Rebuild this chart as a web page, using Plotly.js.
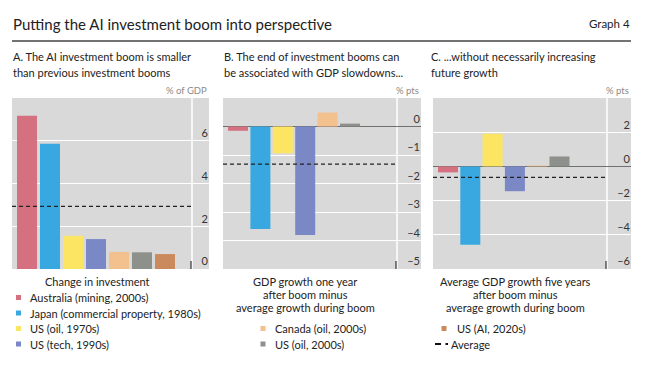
<!DOCTYPE html>
<html>
<head>
<meta charset="utf-8">
<script src="https://cdn.plot.ly/plotly-3.0.1.min.js"></script>
<style>html,body{margin:0;padding:0;background:#fff;}#chart{width:650px;height:368px;}</style>
</head>
<body>
<div id="chart"></div>
<script>
// ---- data ----
const categories = ["Australia (mining, 2000s)", "Japan (commercial property, 1980s)", "US (oil, 1970s)", "US (tech, 1990s)", "Canada (oil, 2000s)", "US (oil, 2000s)", "US (AI, 2020s)"];
const investmentChange = [7.17, 5.86, 1.55, 1.4, 0.8, 0.78, 0.7];      // % of GDP
const growthOneYearAfter = [-0.15, -3.6, -0.94, -3.81, 0.49, 0.1, null]; // % pts
const growthFiveYearsAfter = [-0.35, -4.58, 1.91, -1.45, 0.05, 0.58, null]; // % pts
const averages = [2.93, -1.32, -0.64];
const panelTitles = [
  ["A. The AI investment boom is smaller", "than previous investment booms"],
  ["B. The end of investment booms can", "be associated with GDP slowdowns..."],
  ["C. ...without necessarily increasing", "future growth"]
];
const xTitles = [
  ["Change in investment"],
  ["GDP growth one year", "after boom minus", "average growth during boom"],
  ["Average GDP growth five years", "after boom minus", "average growth during boom"]
];
const units = ["% of GDP", "% pts", "% pts"];
const yTicks = [[0, 2, 4, 6], [-5, -4, -3, -2, -1, 0], [-6, -4, -2, 0, 2]];
const yRanges = [[0, 8], [-5, 1], [-6, 4]];

// ---- styles ----
const colors = ["#d4707f", "#3aa8e0", "#fde564", "#7b88c6", "#f2c18d", "#8d908b", "#cb8a5d"];
const W = 650, H = 368;
const FONT = "Lato, 'Open Sans', sans-serif";
const px = x => x / W;
const py = y => 1 - y / H;

// panel geometry (pixels)
const panels = [
  {x0: 12, x1: 209, axisX: 192, pitch: 23, left: 15},
  {x0: 223, x1: 421, axisX: 397, pitch: 22.4, left: 15},
  {x0: 433, x1: 631, axisX: 607, pitch: 22.3, left: 15}
];
const TOP = 98, BOT = 269;
const LABEL_RAISE = 7.5; // px the tick labels sit above their grid lines
const series = [investmentChange, growthOneYearAfter, growthFiveYearsAfter];

const data = [];
const layout = {
  width: W, height: H,
  margin: {l: 0, r: 0, t: 0, b: 0},
  paper_bgcolor: "#ffffff",
  plot_bgcolor: "#d9d9d9",
  showlegend: false,
  font: {family: FONT, color: "#222"},
  shapes: [], annotations: []
};

panels.forEach((p, i) => {
  const sfx = i === 0 ? "" : String(i + 1);
  const xa = "x" + sfx, ya = "y" + sfx;
  const lsfx = String(i + 4);
  const widthPx = p.x1 - p.x0;
  const lo = -p.left / p.pitch;
  data.push({
    type: "bar", x: categories, y: series[i], xaxis: xa, yaxis: ya,
    marker: {color: colors, line: {width: 0}},
    width: 20 / p.pitch, hoverinfo: "skip"
  });
  // empty trace so the tick-label axis is drawn
  data.push({type: "scatter", mode: "markers", x: [], y: [], xaxis: xa, yaxis: "y" + lsfx, hoverinfo: "skip"});
  layout["xaxis" + sfx] = {
    domain: [px(p.x0), px(p.x1)], anchor: ya, type: "category",
    range: [lo, lo + widthPx / p.pitch],
    showgrid: false, zeroline: false, showticklabels: false, ticks: "", showline: false, fixedrange: true
  };
  const r = yRanges[i];
  layout["yaxis" + sfx] = {
    domain: [py(BOT), py(TOP)], anchor: xa, side: "right",
    range: r, tickvals: yTicks[i], showticklabels: false,
    showgrid: true, gridcolor: "#ffffff", gridwidth: 1,
    zeroline: i !== 0, zerolinecolor: "#6f6f6f", zerolinewidth: 1.5,
    ticks: "", showline: false, fixedrange: true
  };
  // label axis: same scale, offset so labels sit just above the grid lines
  const d = LABEL_RAISE * (r[1] - r[0]) / (BOT - TOP);
  layout["yaxis" + lsfx] = {
    overlaying: ya, anchor: "free", position: px(p.x1 - 1), side: "left",
    range: [r[0] - d, r[1] - d], tickvals: yTicks[i],
    ticktext: yTicks[i].map(v => String(v).replace("-", "\u2013")),
    ticklabelstandoff: 0, showgrid: false, zeroline: false,
    tickfont: {family: FONT, size: 11, color: "#333"},
    ticks: "", showline: false, fixedrange: true
  };
  const axFrac = (p.axisX - p.x0) / widthPx;
  // white vertical axis line
  layout.shapes.push({type: "line", xref: xa + " domain", yref: ya + " domain",
    x0: axFrac, x1: axFrac, y0: 0, y1: 1, line: {color: "#ffffff", width: 1.5}, layer: "below"});
  // small black tick at bottom
  layout.shapes.push({type: "line", xref: xa + " domain", yref: ya + " domain",
    x0: axFrac - 1 / widthPx, x1: axFrac - 1 / widthPx, y0: 0, y1: 8 / (BOT - TOP), line: {color: "#111", width: 1}});
  // average dashed line
  layout.shapes.push({type: "line", xref: xa + " domain", yref: ya,
    x0: 0, x1: axFrac, y0: averages[i], y1: averages[i], line: {color: "#222", width: 1.2, dash: "4px,3px"}});
  // units
  layout.annotations.push({text: units[i], xref: "paper", yref: "paper", x: px(p.x1), y: py(91),
    xanchor: "right", yanchor: "middle", showarrow: false, font: {size: 9.5, color: "#8a8a8a"}});
  // panel subtitles
  panelTitles[i].forEach((t, k) => layout.annotations.push({text: t, xref: "paper", yref: "paper",
    x: px(i === 2 ? 429 : p.x0 - 1), y: py(57 + 15 * k), xanchor: "left", yanchor: "middle",
    showarrow: false, font: {size: 11, color: "#222"}}));
  // x titles
  const cx = [97, 305, 515][i];
  xTitles[i].forEach((t, k) => layout.annotations.push({text: t, xref: "paper", yref: "paper",
    x: px(cx), y: py(281 + 13 * k), xanchor: "center", yanchor: "middle",
    showarrow: false, font: {size: 11, color: "#222"}}));
});

// header
layout.annotations.push({text: "Putting the AI investment boom into perspective", xref: "paper", yref: "paper",
  x: px(11), y: py(24), xanchor: "left", yanchor: "middle", showarrow: false, font: {size: 15, color: "#222"}});
layout.annotations.push({text: "Graph 4", xref: "paper", yref: "paper",
  x: px(632), y: py(24), xanchor: "right", yanchor: "middle", showarrow: false, font: {size: 11.5, color: "#222"}});
layout.shapes.push({type: "line", xref: "paper", yref: "paper", x0: px(12), x1: px(631), y0: py(41), y1: py(41),
  line: {color: "#444", width: 1.5}});

// legend (manual, three columns)
const rows = [297.5, 313, 328.5, 344];
const legendPlace = [
  {sw: 18.5, tx: 28, row: 0}, {sw: 18.5, tx: 28, row: 1}, {sw: 18.5, tx: 28, row: 2}, {sw: 18.5, tx: 28, row: 3},
  {sw: 263, tx: 273, row: 2}, {sw: 263, tx: 273, row: 3},
  {sw: 444, tx: 455, row: 2}
];
categories.forEach((c, i) => {
  const lp = legendPlace[i], y = rows[lp.row];
  layout.shapes.push({type: "rect", xref: "paper", yref: "paper", x0: px(lp.sw - 2.5), x1: px(lp.sw + 2.5),
    y0: py(y + 2.5), y1: py(y - 2.5), fillcolor: colors[i], line: {width: 0}});
  layout.annotations.push({text: c, xref: "paper", yref: "paper", x: px(lp.tx), y: py(y),
    xanchor: "left", yanchor: "middle", showarrow: false, font: {size: 11, color: "#222"}});
});
// Average legend entry
layout.shapes.push({type: "line", xref: "paper", yref: "paper", x0: px(435), x1: px(441), y0: py(rows[3]), y1: py(rows[3]),
  line: {color: "#111", width: 2}});
layout.shapes.push({type: "line", xref: "paper", yref: "paper", x0: px(445.5), x1: px(448), y0: py(rows[3]), y1: py(rows[3]),
  line: {color: "#111", width: 2}});
layout.annotations.push({text: "Average", xref: "paper", yref: "paper", x: px(449), y: py(rows[3]),
  xanchor: "left", yanchor: "middle", showarrow: false, font: {size: 11, color: "#222"}});

Plotly.newPlot("chart", data, layout, {staticPlot: true, displayModeBar: false});
</script>
</body>
</html>
